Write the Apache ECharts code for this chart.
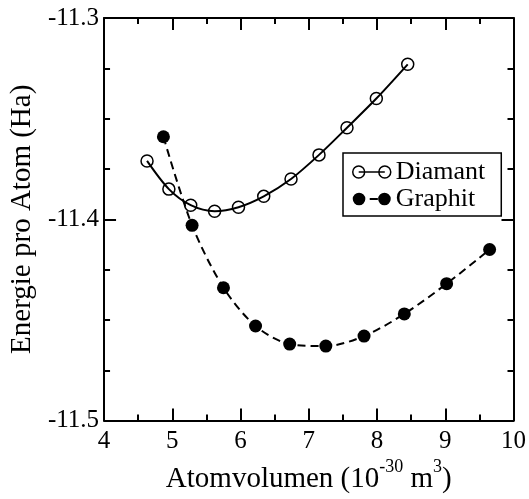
<!DOCTYPE html>
<html>
<head>
<meta charset="utf-8">
<script src="https://cdn.jsdelivr.net/npm/echarts@6/dist/echarts.min.js"></script>
<style>html,body{margin:0;padding:0;background:#fff}#c{width:529px;height:499px}</style>
</head>
<body>
<div id="c"></div>
<script>
// Data
var diamantVol = [4.63, 4.95, 5.27, 5.62, 5.97, 6.34, 6.74, 7.15, 7.56, 7.99, 8.45];
var diamantE   = [-11.371, -11.385, -11.393, -11.396, -11.394, -11.3886, -11.380, -11.368, -11.3545, -11.340, -11.323];
var graphitVol = [4.87, 5.29, 5.75, 6.22, 6.72, 7.25, 7.81, 8.40, 9.02, 9.65];
var graphitE   = [-11.359, -11.403, -11.434, -11.453, -11.462, -11.463, -11.458, -11.447, -11.432, -11.415];
var seriesNames = ['Diamant', 'Graphit'];
var xTicks = {min: 4, max: 10, step: 1};
var yTicks = {min: -11.5, max: -11.3, step: 0.1};

function pairs(xs, ys) { return xs.map(function (x, i) { return [x, ys[i]]; }); }

var FONT = 'Liberation Serif';
var black = '#000';

function xAxisCfg(pos, labels) {
  return {
    type: 'value', position: pos, min: xTicks.min, max: xTicks.max, interval: xTicks.step,
    axisLine: {show: true, onZero: false, lineStyle: {color: black, width: 2}},
    axisTick: {show: true, inside: true, length: 12, lineStyle: {color: black, width: 2}},
    minorTick: {show: true, splitNumber: 2, length: 6, lineStyle: {color: black, width: 2}},
    splitLine: {show: false},
    axisLabel: {show: labels, color: black, fontFamily: FONT, fontSize: 25, margin: 8},
    name: labels ? '{b|Atomvolumen (10}{s|-30}{b| m}{s|3}{b|)}' : '',
    nameLocation: 'middle', nameGap: 23,
    nameTextStyle: {
      rich: {
        b: {fontFamily: FONT, fontSize: 29, lineHeight: 42, color: black, verticalAlign: 'middle'},
        s: {fontFamily: FONT, fontSize: 18, lineHeight: 18, color: black, verticalAlign: 'top'}
      }
    }
  };
}
function yAxisCfg(pos, labels) {
  return {
    type: 'value', position: pos, min: yTicks.min, max: yTicks.max, interval: yTicks.step,
    axisLine: {show: true, onZero: false, lineStyle: {color: black, width: 2}},
    axisTick: {show: true, inside: true, length: 12, lineStyle: {color: black, width: 2}},
    minorTick: {show: true, splitNumber: 4, length: 6, lineStyle: {color: black, width: 2}},
    splitLine: {show: false},
    axisLabel: {show: labels, color: black, fontFamily: FONT, fontSize: 25, margin: 5,
      formatter: function (v) { return v.toFixed(1); }},
    name: labels ? 'Energie pro Atom (Ha)' : '',
    nameLocation: 'middle', nameGap: 65,
    nameTextStyle: {fontFamily: FONT, fontSize: 29, color: black}
  };
}

var chart = echarts.init(document.getElementById('c'));
chart.setOption({
  animation: false,
  backgroundColor: '#fff',
  grid: {left: 104, right: 15, top: 18, bottom: 72, containLabel: false},
  xAxis: [xAxisCfg('bottom', true), xAxisCfg('top', false)],
  yAxis: [yAxisCfg('left', true), yAxisCfg('right', false)],
  legend: {
    orient: 'vertical', left: 343, top: 153,
    backgroundColor: '#fff', borderColor: black, borderWidth: 1.5,
    padding: [6, 16, 4, 9], itemGap: 1, itemWidth: 38, itemHeight: 13,
    textStyle: {fontFamily: FONT, fontSize: 26, color: black},
    data: [
      {name: seriesNames[0],
       icon: 'path://M0.8 6.5A5.7 5.7 0 1 1 12.2 6.5A5.7 5.7 0 1 1 0.8 6.5ZM6.5 6.5L31.5 6.5M25.8 6.5A5.7 5.7 0 1 1 37.2 6.5A5.7 5.7 0 1 1 25.8 6.5Z',
       itemStyle: {color: 'rgba(0,0,0,0)', borderColor: black, borderWidth: 1.5}},
      {name: seriesNames[1],
       icon: 'path://M0.3 6.5A6.2 6.2 0 1 1 12.7 6.5A6.2 6.2 0 1 1 0.3 6.5ZM17 5.5L25 5.5L25 7.5L17 7.5ZM25.3 6.5A6.2 6.2 0 1 1 37.7 6.5A6.2 6.2 0 1 1 25.3 6.5Z',
       itemStyle: {color: black, borderColor: black, borderWidth: 0}}
    ]
  },
  series: [
    {
      name: seriesNames[0], type: 'line', xAxisIndex: 0, yAxisIndex: 0,
      data: pairs(diamantVol, diamantE), smooth: 0.3,
      symbol: 'circle', symbolSize: 12,
      lineStyle: {color: black, width: 2},
      itemStyle: {color: 'rgba(0,0,0,0)', borderColor: black, borderWidth: 1.5},
      z: 3
    },
    {
      name: seriesNames[1], type: 'line', xAxisIndex: 0, yAxisIndex: 0,
      data: pairs(graphitVol, graphitE), smooth: 0.3,
      symbol: 'circle', symbolSize: 13,
      lineStyle: {color: black, width: 2, type: [8, 5]},
      itemStyle: {color: black, borderColor: black, borderWidth: 0},
      z: 2
    }
  ]
});
</script>
</body>
</html>
